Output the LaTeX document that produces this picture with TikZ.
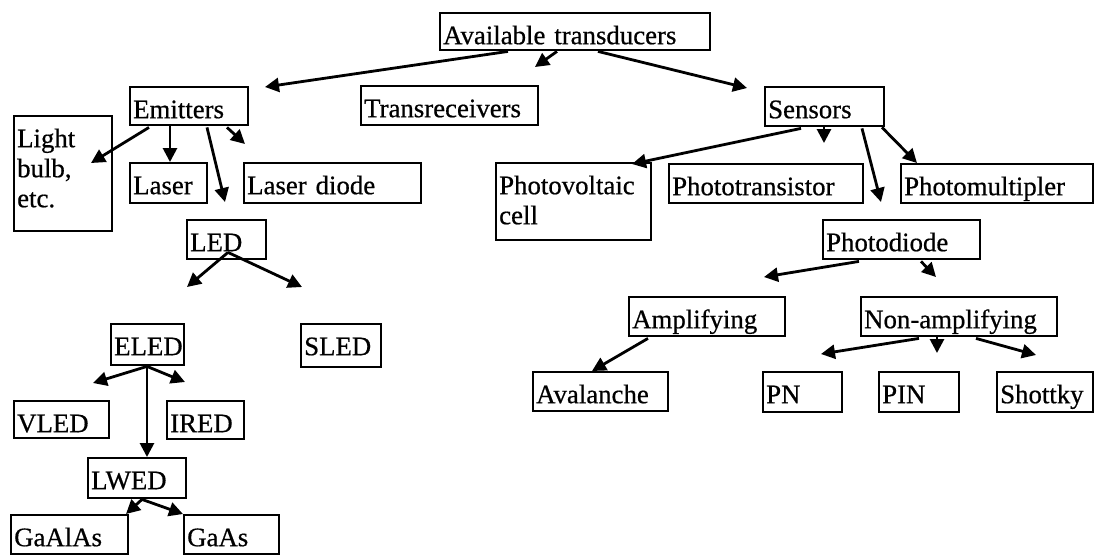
\documentclass[tikz,border=0pt]{standalone}
\usepackage{fontspec}
\setmainfont{Liberation Serif}[FakeBold=0.6]
\usetikzlibrary{arrows.meta,calc}
\begin{document}
\begin{tikzpicture}[x=0.5pt,y=-0.5pt,
  box/.style={draw, line width=1.2pt, inner xsep=1.5pt, inner ysep=0pt, align=left,
    anchor=north west, font=\fontsize{13.4}{15}\selectfont, text height=15.5pt},
  arr/.style={line width=1.4pt, -{Triangle[length=7pt,width=7pt]}}]
\newcommand\bxnode[6]{%
  \pgfmathsetmacro\bxw{(#4-#2)*0.5-3}%
  \pgfmathsetmacro\bxd{(#5-#3)*0.5-15.5}%
  \node[box, text width=\bxw pt, text depth=\bxd pt] (#1) at (#2,#3) {#6};}
\useasboundingbox (0,0) rectangle (1094,554);
% nodes (pixel coordinates: left, top, right, bottom)
\bxnode{avail}{439}{12}{709}{49}{Available transducers}
\bxnode{emit}{129}{86}{247}{124}{Emitters}
\bxnode{trans}{360}{85}{537}{124}{Transreceivers}
\bxnode{sens}{764}{86}{883}{125}{Sensors}
\bxnode{bulb}{13}{115}{111}{230}{Light\\bulb,\\etc.}
\bxnode{laser}{129}{162}{206}{202}{Laser}
\bxnode{ldiode}{243}{162}{420}{202}{Laser diode}
\bxnode{pv}{495}{162}{650}{239}{Photovoltaic\\cell}
\bxnode{ptrans}{668}{163}{862}{202}{Phototransistor}
\bxnode{pmult}{900}{163}{1092}{202}{Photomultipler}
\bxnode{led}{186}{219}{265}{258}{LED}
\bxnode{pdiode}{822}{219}{979}{258}{Photodiode}
\bxnode{amp}{628}{296}{784}{335}{Amplifying}
\bxnode{namp}{860}{296}{1056}{335}{Non-amplifying}
\bxnode{eled}{110}{323}{183}{364}{ELED}
\bxnode{sled}{300}{323}{380}{366}{SLED}
\bxnode{aval}{532}{371}{667}{410}{Avalanche}
\bxnode{pn}{762}{371}{841}{411}{PN}
\bxnode{pin}{878}{371}{958}{411}{PIN}
\bxnode{shot}{996}{371}{1092}{411}{Shottky}
\bxnode{vled}{13}{400}{108}{437}{VLED}
\bxnode{ired}{166}{400}{243}{438}{IRED}
\bxnode{lwed}{87}{457}{185}{497}{LWED}
\bxnode{gaalas}{10}{514}{127}{553}{GaAlAs}
\bxnode{gaas}{183}{514}{278}{553}{GaAs}
% free arrow ends
\coordinate (tEmit) at (265,87);
\coordinate (tTrans) at (535,67);
\coordinate (tSens) at (747,88);
\coordinate (tBulb) at (91,163);
\coordinate (tLaser) at (170,162);
\coordinate (tLed) at (225,202);
\coordinate (tLdiode) at (245,144);
\coordinate (tPv) at (632,164);
\coordinate (tPtrans) at (824,143);
\coordinate (tPdiode) at (881,202);
\coordinate (tPmult) at (917,163);
\coordinate (tLedL) at (187,287);
\coordinate (tLedR) at (302,287);
\coordinate (tAmp) at (764,277);
\coordinate (tNamp) at (936,277);
\coordinate (tAval) at (592,371);
\coordinate (tPn) at (821,354);
\coordinate (tPin) at (937,353);
\coordinate (tShot) at (1036,355);
\coordinate (tVled) at (93,383);
\coordinate (tIred) at (185,382);
\coordinate (tLwed) at (147,457);
\coordinate (tGaalas) at (126,514);
\coordinate (tGaas) at (183,514);
% connectors
\draw[arr] ($(avail.south west)+(69,0)$) -- (tEmit);
\draw[arr] ($(avail.south west)+(118,0)$) -- (tTrans);
\draw[arr] ($(avail.south west)+(159,0)$) -- (tSens);
\draw[arr] ($(emit.south west)+(20,1)$) -- (tBulb);
\draw[arr] ($(emit.south west)+(41,0)$) -- (tLaser);
\draw[arr] ($(emit.south west)+(78,1)$) -- (tLed);
\draw[arr] ($(emit.south west)+(98,1)$) -- (tLdiode);
\draw[arr] ($(sens.south west)+(37,1)$) -- (tPv);
\draw[arr] ($(sens.south west)+(60,0)$) -- (tPtrans);
\draw[arr] ($(sens.south west)+(98,1)$) -- (tPdiode);
\draw[arr] ($(sens.south west)+(118,0)$) -- (tPmult);
\draw[arr] ($(led.south west)+(42,-8)$) -- (tLedL);
\draw[arr] ($(led.south west)+(42,-8)$) -- (tLedR);
\draw[arr] ($(pdiode.south west)+(37,1)$) -- (tAmp);
\draw[arr] ($(pdiode.south west)+(99,1)$) -- (tNamp);
\draw[arr] ($(amp.south west)+(20,1)$) -- (tAval);
\draw[arr] ($(namp.south west)+(59,1)$) -- (tPn);
\draw[arr] ($(namp.south west)+(77,0)$) -- (tPin);
\draw[arr] ($(namp.south west)+(116,1)$) -- (tShot);
\draw[arr] ($(eled.south west)+(37,0)$) -- (tVled);
\draw[arr] ($(eled.south west)+(37,0)$) -- (tIred);
\draw[arr] ($(eled.south west)+(37,0)$) -- (tLwed);
\draw[arr] ($(lwed.south west)+(55,0)$) -- (tGaalas);
\draw[arr] ($(lwed.south west)+(55,0)$) -- (tGaas);
\end{tikzpicture}
\end{document}
